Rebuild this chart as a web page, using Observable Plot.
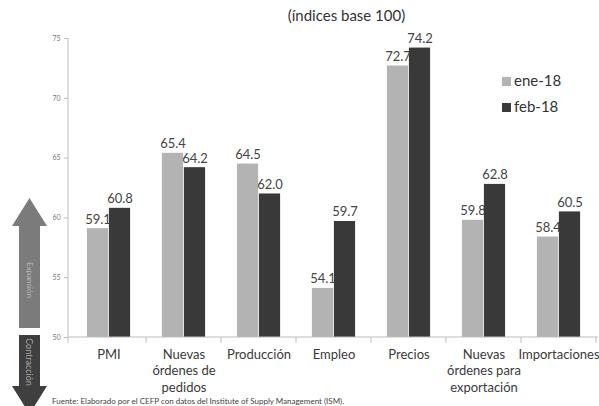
<!DOCTYPE html>
<html><head><meta charset="utf-8">
<script src="https://cdn.jsdelivr.net/npm/d3@7"></script>
<script src="https://cdn.jsdelivr.net/npm/@observablehq/plot@0.6"></script>
<style>
body{margin:0;background:#fff;font-family:Lato,"Open Sans",sans-serif;}
#wrap{position:relative;width:599px;height:406px;overflow:hidden;}
#wrap > svg, #wrap > figure{position:absolute;left:0;top:0;margin:0;}
#title{position:absolute;left:0;width:599px;top:6px;text-align:center;padding-left:94px;box-sizing:border-box;font-size:15px;color:#333;}
#legend{position:absolute;left:502px;top:67px;font-size:15px;color:#333;line-height:26px;}
#legend span.sw{display:inline-block;width:9px;height:9px;margin-right:3px;vertical-align:0px;}
#source{position:absolute;left:52px;top:397px;font-size:8px;line-height:9px;color:#444;white-space:nowrap;}
</style></head><body>
<div id="wrap"></div>
<script>
const categories = ["PMI","Nuevas órdenes de pedidos","Producción","Empleo","Precios","Nuevas órdenes para exportación","Importaciones"];
const categoryLabels = ["PMI","Nuevas\nórdenes de\npedidos","Producción","Empleo","Precios","Nuevas\nórdenes para\nexportación","Importaciones"];
const seriesNames = ["ene-18","feb-18"];
const ene18 = [59.1,65.4,64.5,54.1,72.7,59.8,58.4];
const feb18 = [60.8,64.2,62.0,59.7,74.2,62.8,60.5];
const yTicks = [50,55,60,65,70,75];
const seriesColors = ["#b3b3b3","#393939"];
const titleText = "(índices base 100)";
const sourceText = "Fuente: Elaborado por el CEFP con datos del Institute of Supply Management (ISM).";
const arrowLabels = ["Expansión","Contracción"];

const rows = (vals, s) => categories.map((c,i)=>({cat:c, series:s, value:vals[i]}));
const eneData = rows(ene18, seriesNames[0]);
const febData = rows(feb18, seriesNames[1]);
const labelOf = new Map(categories.map((c,i)=>[c,categoryLabels[i]]));

const inset = 26.9, shift = 11;

const decorations = (index, scales, values, dim) => {
  const g = d3.create("svg:g").attr("stroke","#bdbdbd").attr("fill","none");
  const x = scales.x, y = scales.y;
  const y0 = y(50), yT = y(75);
  const left = dim.marginLeft, right = dim.width - dim.marginRight;
  g.append("line").attr("x1",left).attr("x2",left).attr("y1",yT).attr("y2",y0);
  g.append("line").attr("x1",left).attr("x2",right).attr("y1",y0).attr("y2",y0);
  const bw = x.bandwidth();
  for (const c of categories) {
    const xb = x(c) + bw;
    g.append("line").attr("x1",xb).attr("x2",xb).attr("y1",y0).attr("y2",y0+6);
  }
  g.append("line").attr("x1",left).attr("x2",left).attr("y1",y0).attr("y2",y0+6);
  return g.node();
};

const chart = Plot.plot({
  width:599, height:406,
  marginLeft:68, marginRight:1, marginTop:38, marginBottom:69,
  style:{fontFamily:"Lato, sans-serif", background:"transparent", overflow:"visible"},
  x:{domain:categories, padding:0, axis:null, label:null},
  y:{domain:[50,75], axis:null, label:null},
  marks:[
    Plot.barY(eneData,{x:"cat", y1:50, y2:"value", fill:seriesColors[0], insetLeft:inset, insetRight:inset, dx:-shift}),
    Plot.text(eneData,{x:"cat", y:"value", text:d=>d.value.toFixed(1), dx:-shift, dy:-5, lineAnchor:"bottom", fontSize:13, fill:"#444"}),
    Plot.barY(febData,{x:"cat", y1:50, y2:"value", fill:seriesColors[1], insetLeft:inset, insetRight:inset, dx:shift}),
    Plot.text(febData,{x:"cat", y:"value", text:d=>d.value.toFixed(1), dx:shift, dy:-5, lineAnchor:"bottom", fontSize:13, fill:"#444"}),
    Plot.axisY({ticks:yTicks, tickSize:4, tickPadding:4, fontSize:7, stroke:"#bdbdbd", fill:"#777", label:null}),
    Plot.axisX({anchor:"bottom", tickSize:0, tickPadding:9, fontSize:13, fill:"#3a3a3a", lineHeight:1.3, label:null, tickFormat:d=>labelOf.get(d)}),
    decorations
  ]
});

const wrap = document.getElementById("wrap");
wrap.appendChild(chart);

// arrows (decoration)
const deco = d3.create("svg").attr("width",599).attr("height",406).style("position","absolute").style("left","0").style("top","0").style("pointer-events","none");
deco.append("path").attr("d","M29.5,198 L47,226 L40,226 L40,328 L19,328 L19,226 L12,226 Z").attr("fill","#7b7b7b");
deco.append("path").attr("d","M19,335 L40,335 L40,386 L47,386 L29.5,414 L12,386 L19,386 Z").attr("fill","#3f3f3f");
deco.append("text").attr("transform","translate(29.5,280) rotate(90)").attr("text-anchor","middle").attr("dominant-baseline","central").attr("font-size",8).attr("fill","#b9b9b9").attr("font-family","Lato, sans-serif").text(arrowLabels[0]);
deco.append("text").attr("transform","translate(29.5,362) rotate(90)").attr("text-anchor","middle").attr("dominant-baseline","central").attr("font-size",9).attr("fill","#a8a8a8").attr("font-family","Lato, sans-serif").text(arrowLabels[1]);
wrap.appendChild(deco.node());

const t = document.createElement("div"); t.id="title"; t.textContent = titleText; wrap.appendChild(t);
const lg = document.createElement("div"); lg.id="legend";
lg.innerHTML = seriesNames.map((s,i)=>`<div><span class="sw" style="background:${seriesColors[i]}"></span>${s}</div>`).join("");
wrap.appendChild(lg);
const src = document.createElement("div"); src.id="source"; src.textContent = sourceText; wrap.appendChild(src);
</script>
</body></html>
